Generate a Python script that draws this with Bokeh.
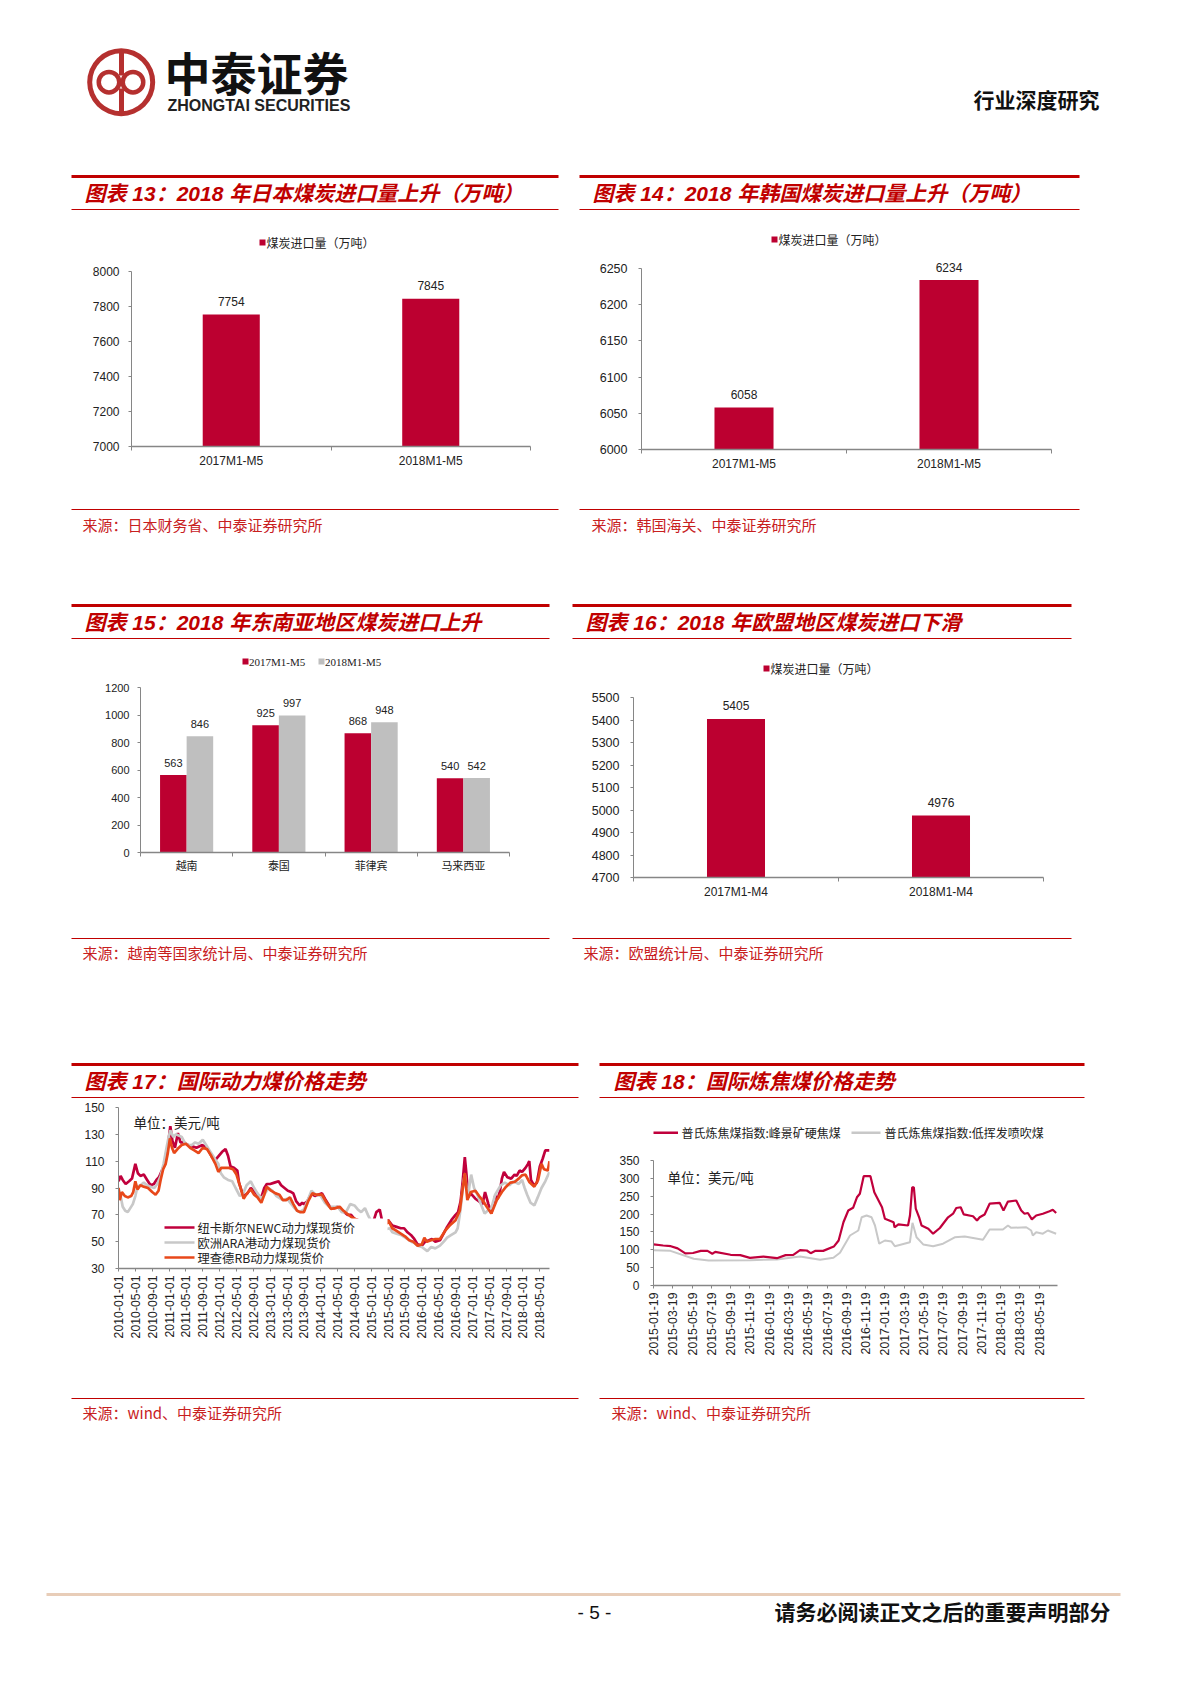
from math import pi
from bokeh.plotting import figure
from bokeh.layouts import column, row
from bokeh.models import (Range1d, LinearAxis, FixedTicker, BoxAnnotation, Label, LabelSet,
                          ColumnDataSource)
from bokeh.core.properties import value
from bokeh.embed import file_html
from bokeh.resources import INLINE

# ---------- data ----------
cats13 = ["2017M1-M5", "2018M1-M5"]
vals13 = [7754, 7845]
ticks13 = [7000, 7200, 7400, 7600, 7800, 8000]
cats14 = ["2017M1-M5", "2018M1-M5"]
vals14 = [6058, 6234]
ticks14 = [6000, 6050, 6100, 6150, 6200, 6250]
cats15 = ["越南", "泰国", "菲律宾", "马来西亚"]
vals15a = [563, 925, 868, 540]
vals15b = [846, 997, 948, 542]
ticks15 = [0, 200, 400, 600, 800, 1000, 1200]
cats16 = ["2017M1-M4", "2018M1-M4"]
vals16 = [5405, 4976]
ticks16 = [4700, 4800, 4900, 5000, 5100, 5200, 5300, 5400, 5500]

labels17 = ["2010-01-01", "2010-05-01", "2010-09-01", "2011-01-01", "2011-05-01", "2011-09-01",
            "2012-01-01", "2012-05-01", "2012-09-01", "2013-01-01", "2013-05-01", "2013-09-01",
            "2014-01-01", "2014-05-01", "2014-09-01", "2015-01-01", "2015-05-01", "2015-09-01",
            "2016-01-01", "2016-05-01", "2016-09-01", "2017-01-01", "2017-05-01", "2017-09-01",
            "2018-01-01", "2018-05-01"]
ticks17 = [30, 50, 70, 90, 110, 130, 150]
# (months since 2010-01, USD/t)
newc = [(0,95),(0.5,99),(1,96),(1.7,93),(2.5,95),(3.2,97),(4,108),(4.6,101),(5.2,99),(6,100),(6.8,96),(7.6,92),
        (8.4,93),(9,96),(9.6,98),(10.3,103),(11,108),(11.6,118),(12.3,136),(12.8,125),(13.4,120),(14.1,131),
        (14.7,124),(15.5,124),(16.5,122),(17.5,121),(18.5,120),(19.9,122),(21,120),(22.2,113),(23,111),(23.8,114),
        (24.6,117),(25.4,119),(26,114),(26.6,106),(27.4,105),(28.2,103),(28.6,94),(29.2,88),(29.8,84),(30.6,86),
        (31.4,90),(32.2,88),(33,85),(33.9,83),(34.6,90),(35.2,93),(36,93),(37,94),(38,95),(38.6,92),(39.4,90),
        (40.2,88),(41,87),(41.5,86),(42.2,80),(43,77),(43.6,79),(44,78),(44.8,80),(45.8,86),(46.6,84),(47.4,85),
        (48.3,86),(49,82),(49.8,78),(50.4,75),(51.2,75),(52,76),(52.8,74),(53.6,72),(54.4,70),(55.2,70),(56,67),
        (57,66),(58,64),(59,62),(60,63),(60.6,66),(61.2,72),(62,74),(62.4,68),(62.8,62),(64,66),(65,62),(66,61),
        (67,60),(67.8,60),(68.6,57),(69.4,55),(70.2,52),(71,48),(72,47),(72.8,50),(73.7,51),(74.4,52),(75.2,50),
        (76.3,51),(77,55),(78,61),(79,66),(80,70),(80.6,72),(81.2,80),(81.7,95),(82.2,113),(82.6,100),(83,83),
        (83.6,86),(84.7,82),(85.6,80),(86.4,78),(87,87),(87.8,78),(88.5,71),(89.4,84),(90,82),(90.5,87),(91,97),
        (91.5,102),(92.3,98),(93.2,97),(94,100),(94.5,99),(95.2,103),(95.8,102),(96.6,105),(97.2,108),(97.5,110),
        (97.9,96),(98.6,92),(99.3,94),(100,106),(100.7,112),(101.3,118),(102.3,118)]
ara = [(0,90),(0.5,84),(1,76),(1.6,73),(2.2,72),(2.8,75),(3.4,78),(4,84),(4.5,91),(5.2,92),(6,94),(6.8,92),(7.6,91),
       (8.5,90),(9.2,93),(10,99),(10.7,108),(11.4,120),(11.9,128),(12.3,133),(13,128),(13.6,130),(14.4,129),(15,128),
       (15.7,124),(16.5,122),(17.4,122),(18.2,124),(19,123),(20,126),(20.8,122),(21.6,118),(22.4,114),(23,111),
       (23.7,108),(24.3,101),(25,98),(26,96),(27,95),(27.8,90),(28.8,84),(29.6,86),(30.4,92),(31.4,95),(32.2,90),
       (33,86),(33.9,82),(34.8,86),(35.6,90),(36.5,88),(37.5,84),(39,81),(40,82),(41.5,76),(42.4,73),(43,72),(44,74),
       (44.8,80),(45.8,88),(46.8,85),(48,84),(49,79),(50,76),(50.8,76),(52,76),(53,72),(54,72),(55,78),(56,77),
       (56.8,74),(57.6,72),(58.5,75),(59.2,70),(60,65),(61,62),(62,60),(63,59),(64.4,60),(65,57),(66,56),(67,55),
       (68.6,52),(69.5,50),(70.2,49),(71,47),(72,46),(73.3,43),(74.2,46),(75.2,45),(76.3,47),(77.2,50),(78,53),
       (79,55),(80,57),(80.5,60),(81,70),(81.4,80),(81.9,95),(82.2,100),(82.6,90),(83,85),(83.7,100),(84.4,90),
       (85.2,85),(86,78),(86.9,71),(87.6,73),(88.5,75),(89.4,85),(90.7,92),(91.7,94),(92.8,92),(93.8,95),(95,93),
       (95.8,96),(96.4,90),(97,85),(97.8,79),(98.7,77),(99.5,83),(100.4,90),(101.3,95),(102.3,102)]
rb = [(0,90),(0.3,81),(0.8,87),(1.5,84),(2.2,83),(3,84),(3.5,87),(4,95),(4.5,89),(5.2,92),(6,91),(7,90),(8,87),
      (8.8,85),(9.5,88),(10,96),(10.6,104),(11.2,108),(11.7,116),(12.2,127),(12.7,120),(13.2,116),(14,119),(15,122),
      (16,123),(17,120),(18,118),(19,116),(20,120),(21,119),(22,114),(23,108),(23.7,102),(24.4,105),(25.2,105),
      (26.2,105),(27.2,104),(28,100),(28.8,92),(29.7,82),(30.5,86),(31.4,89),(32.2,85),(33,83),(33.9,79),(34.6,85),
      (35.2,91),(36.2,88),(37.3,86),(38.2,85),(39,81),(39.8,81),(40.7,83),(41.5,78),(42.4,73),(43.2,72),(44,72),
      (45,80),(46,86),(47,85),(48.3,85),(49.4,79),(50.4,74.5),(51.5,75),(52.5,76),(53.4,73),(54.2,71),(55.4,68),
      (56.8,66),(58,65),(59.3,66),(60,62),(61,60),(62,61),(63,60),(64,66),(65,60),(66,58),(67,56),(68,54),(69,51),
      (70,50),(71,47),(72,48),(72.6,53),(73.2,50),(74.2,51),(75.2,52),(76.3,52),(77.5,58),(78.6,62),(80,66),(81,73),
      (81.5,85),(82.2,101),(82.8,81),(83.6,87),(84.7,88),(85.6,84),(86.4,81),(87.4,76),(88.5,71),(89.8,81),(91,87),
      (92,91),(93,94),(94,94.5),(95,97),(95.8,99.5),(96.6,100),(97.5,94.5),(98.7,91),(99.6,96),(100.4,108),(101,104),
      (101.9,103),(102.3,110)]

labels18 = ["2015-01-19", "2015-03-19", "2015-05-19", "2015-07-19", "2015-09-19", "2015-11-19", "2016-01-19",
            "2016-03-19", "2016-05-19", "2016-07-19", "2016-09-19", "2016-11-19", "2017-01-19", "2017-03-19",
            "2017-05-19", "2017-07-19", "2017-09-19", "2017-11-19", "2018-01-19", "2018-03-19", "2018-05-19"]
ticks18 = [0, 50, 100, 150, 200, 250, 300, 350]
# (months since 2015-01-19, USD/t)
hard = [(0,115),(1,112),(1.8,110),(2.5,104),(3.3,90),(4.1,91),(4.9,97),(5.6,97),(6.1,89),(6.4,94),(8,86),(9,85),(10,77.5),
        (11.4,81),(12.8,76.5),(13.7,85),(14.5,86),(15.2,99),(15.9,98),(16.3,90.5),(16.8,97),(17.6,97),(18.7,109),
        (19.2,126),(19.7,177),(20.2,210),(20.7,217.5),(21.1,247),(21.4,257),(21.8,306),(22.5,306),(22.9,261),
        (23.7,219),(24,187),(24.9,177),(25,163),(25.4,171),(26.4,168),(26.6,196),(26.83,275),(27,275),(27.2,215),
        (27.55,191),(27.8,168),(28.5,159),(29,145),(29.7,161),(30.55,191),(31.07,201),(31.4,217),(31.86,219),
        (32.17,199),(33.14,194),(33.55,182),(33.83,191),(34.34,199),(34.86,229),(35.9,231.5),(36.3,210),(36.76,235),
        (37.62,238),(38.14,210),(38.48,201),(38.83,203),(39.24,185),(39.69,196),(40.38,201),(41.07,208),(41.41,212),
        (41.76,203)]
pci = [(0,99),(1.76,97),(4.17,75),(5.72,70),(10.03,71),(12.8,73),(15.2,81),(17.28,72),(18.66,77.5),(19.34,91.5),
       (20.38,140),(21.24,154),(21.59,191),(22.1,196),(22.62,191),(22.97,168),(23.41,117),(24,126),(24.69,123),
       (25.03,110),(26.59,121),(26.86,175.5),(27.28,135),(27.97,115),(29,110),(30.03,117),(31.24,135),(32.28,137),
       (34.17,128),(34.86,157),(36.24,157),(36.76,168),(37.1,161.5),(38.66,163),(39.17,154),(39.34,140),(39.69,149),
       (40.38,145),(40.9,154),(41.76,145)]

RED = "#C00000"
BAR = "#BC0030"
GREY = "#BFBFBF"
LINE_RED = "#C0003C"
LINE_GREY = "#C8C8C8"
LINE_ORANGE = "#E8481A"
CJK = "Noto Sans CJK SC"
LAT = "Liberation Sans"
MIX = "Liberation Sans, 'Noto Sans CJK SC'"
AXIS = "#868686"
TXT = "#222222"
PAGE_W = 1174


def band(y0, y1):
    """A full-width strip whose data coordinates are page pixels, for rules, titles and legends."""
    p = figure(width=PAGE_W, height=y1 - y0, x_range=Range1d(0, PAGE_W), y_range=Range1d(y1, y0),
               output_backend="svg", toolbar_location=None, min_border=0, x_axis_type=None, y_axis_type=None)
    p.outline_line_color = None
    p.grid.visible = False
    return p


def b_rect(p, x0, x1, y0, y1, color):
    p.quad(left=[x0], right=[x1], top=[y0], bottom=[y1], fill_color=color, line_color=None)


def b_text(p, x, y, txt, size, color=TXT, font=CJK, style="normal", align="left"):
    p.text(x=[x], y=[y], text=[txt], text_font=value(font), text_font_size=f"{size}px", text_color=color,
           text_font_style=style, text_align=align, text_baseline="middle")


def header_rules(p, x0, x1, heavy, thin, title, tx):
    b_rect(p, x0, x1, heavy - 1.5, heavy + 1.5, RED)
    b_rect(p, x0, x1, thin - 0.6, thin + 0.6, RED)
    b_text(p, tx, (heavy + thin) / 2 + 0.5, title, 21, RED, MIX, "bold italic")


def source_rule(p, x0, x1, y, src, sy, sx):
    b_rect(p, x0, x1, y - 0.6, y + 0.6, RED)
    b_text(p, sx, sy, src, 15, "#C8201E")


def bar_legend(p, x, y, color, txt, size=12, font=CJK, gap=7):
    b_rect(p, x, x + 6, y - 3, y + 3, color)
    b_text(p, x + gap, y, txt, size, TXT, font)


def panel(px, py, pw, ph, l, r, t, tick_top, b, xr, ticks):
    """Chart figure placed by page pixels; the frame has headroom above the top tick."""
    y0, y1 = ticks[0], ticks[-1]
    yend = y1 + (y1 - y0) * (tick_top - t) / (b - tick_top)
    p = figure(width=pw, height=ph, frame_width=r - l, frame_height=b - t, x_range=Range1d(*xr),
               y_range=Range1d(y0, yend), output_backend="svg", toolbar_location=None,
               min_border_left=l - px, min_border_right=px + pw - r, min_border_top=t - py,
               min_border_bottom=py + ph - b, x_axis_type=None, y_axis_type=None)
    p.outline_line_color = None
    p.grid.visible = False
    return p


def y_axis(p, ticks, size=12, standoff=9):
    a = LinearAxis(ticker=FixedTicker(ticks=ticks), bounds=(ticks[0], ticks[-1]), major_label_text_font=LAT,
                   major_label_text_font_size=f"{size}px", major_label_text_color=TXT,
                   axis_line_color=AXIS, major_tick_line_color=AXIS, major_tick_in=0, major_tick_out=3,
                   minor_tick_in=0, minor_tick_out=0, major_label_standoff=standoff)
    p.add_layout(a, "left")


def x_cat_axis(p, cats, font=LAT, size=12, standoff=3):
    centers = [i + 0.5 for i in range(len(cats))]
    a = LinearAxis(ticker=FixedTicker(ticks=centers, minor_ticks=list(range(len(cats) + 1))),
                   major_label_overrides={c: n for c, n in zip(centers, cats)},
                   major_label_text_font=font, major_label_text_font_size=f"{size}px", major_label_text_color=TXT,
                   axis_line_color=AXIS, axis_line_width=1.5, major_tick_in=0, major_tick_out=0,
                   minor_tick_line_color=AXIS, minor_tick_in=0, minor_tick_out=4, major_label_standoff=standoff)
    p.add_layout(a, "below")


def x_date_axis(p, labels, step):
    pos = [i * step for i in range(len(labels))]
    a = LinearAxis(ticker=FixedTicker(ticks=pos), major_label_overrides={c: n for c, n in zip(pos, labels)},
                   major_label_orientation=pi / 2, major_label_text_font=LAT, major_label_text_font_size="12.3px",
                   major_label_text_color=TXT, axis_line_color=AXIS, axis_line_width=1.5, major_tick_line_color=AXIS,
                   major_tick_in=0, major_tick_out=3, minor_tick_in=0, minor_tick_out=0, major_label_standoff=4)
    p.add_layout(a, "below")


def bar_labels(p, xs, vals, off, size=12):
    src = ColumnDataSource(dict(x=xs, y=vals, t=[str(v) for v in vals]))
    p.add_layout(LabelSet(x="x", y="y", text="t", source=src, y_offset=off, text_align="center",
                          text_baseline="middle", text_font=value(LAT), text_font_size=value(f"{size}px"),
                          text_color=TXT))


def simple_bar(px, py, pw, ph, l, r, t, tick_top, b, ticks, cats, vals, bw, size=12, standoff=9):
    p = panel(px, py, pw, ph, l, r, t, tick_top, b, (0, len(cats)), ticks)
    y_axis(p, ticks, size, standoff)
    x_cat_axis(p, cats)
    xs = [i + 0.5 for i in range(len(cats))]
    p.vbar(x=xs, bottom=ticks[0], top=vals, width=bw, fill_color=BAR, line_color=None)
    bar_labels(p, xs, vals, 13)
    return p


# ---------- header ----------
h = band(0, 170)
LOGO = "#B5302F"
h.annulus(x=[120.7], y=[81.7], inner_radius=29, outer_radius=34, fill_color=LOGO, line_color=None)
h.annulus(x=[108.5, 132.5], y=[81.7, 81.7], inner_radius=8, outer_radius=12.5, fill_color=LOGO, line_color=None)
h.quad(left=[118.5, 118.5], right=[123.5, 123.5], top=[50, 88], bottom=[75, 113], fill_color=LOGO, line_color=None)
b_text(h, 164, 70, "中泰证券", 46, "#111111", CJK, "bold")
b_text(h, 167, 104.5, "ZHONGTAI SECURITIES", 16, "#222222", LAT, "bold")
b_text(h, 973, 98, "行业深度研究", 21, "#111111", CJK, "bold")

# ---------- band above row 1 ----------
a1 = band(170, 256)
header_rules(a1, 71, 558, 176, 209, "图表 13：2018 年日本煤炭进口量上升（万吨）", 84)
header_rules(a1, 579, 1079, 176, 209, "图表 14：2018 年韩国煤炭进口量上升（万吨）", 592)
bar_legend(a1, 259, 242, BAR, "煤炭进口量（万吨）")
bar_legend(a1, 771, 239, BAR, "煤炭进口量（万吨）")

p13 = simple_bar(0, 256, 570, 244, 131, 530, 257, 271, 446, ticks13, cats13, vals13, 0.286, 12, 9)
p14 = simple_bar(570, 256, 530, 244, 641, 1051, 257, 268, 449, ticks14, cats14, vals14, 0.288, 12.5, 11)

# ---------- band between row 1 and row 2 ----------
a2 = band(500, 682)
source_rule(a2, 71, 558, 509, "来源：日本财务省、中泰证券研究所", 524, 82)
source_rule(a2, 579, 1079, 509, "来源：韩国海关、中泰证券研究所", 524, 591)
header_rules(a2, 71, 549, 605, 638, "图表 15：2018 年东南亚地区煤炭进口上升", 84)
header_rules(a2, 572, 1071, 605, 638, "图表 16：2018 年欧盟地区煤炭进口下滑", 585)
bar_legend(a2, 242, 661, BAR, cats13[0], 11, "Liberation Serif", 6.5)
bar_legend(a2, 318, 661, GREY, cats13[1], 11, "Liberation Serif", 6.5)
bar_legend(a2, 763, 668, BAR, "煤炭进口量（万吨）")

# ---------- row 2 ----------
p15 = panel(0, 682, 560, 238, 140, 509, 683, 687, 852, (0, 4), ticks15)
y_axis(p15, ticks15, 11, 8)
x_cat_axis(p15, cats15, CJK, 11, 0)
cx = [i + 0.5 for i in range(4)]
p15.vbar(x=[c - 0.144 for c in cx], bottom=0, top=vals15a, width=0.288, fill_color=BAR, line_color=None)
p15.vbar(x=[c + 0.144 for c in cx], bottom=0, top=vals15b, width=0.288, fill_color=GREY, line_color=None)
bar_labels(p15, [c - 0.144 for c in cx], vals15a, 12, 11)
bar_labels(p15, [c + 0.144 for c in cx], vals15b, 12, 11)
p16 = simple_bar(560, 682, 540, 238, 633, 1043, 683, 697, 877, ticks16, cats16, vals16, 0.283, 12.5, 11)

# ---------- band between row 2 and row 3 ----------
a3 = band(920, 1100)
source_rule(a3, 71, 549, 938, "来源：越南等国家统计局、中泰证券研究所", 952, 82)
source_rule(a3, 572, 1071, 938, "来源：欧盟统计局、中泰证券研究所", 952, 583)
header_rules(a3, 71, 578, 1064, 1097, "图表 17：国际动力煤价格走势", 84)
header_rules(a3, 599, 1084, 1064, 1097, "图表 18：国际炼焦煤价格走势", 613)

# ---------- row 3 ----------
p17 = panel(0, 1100, 590, 285, 118, 549, 1102, 1107, 1268, (0, 102.3), ticks17)
y_axis(p17, ticks17, 12, 11)
x_date_axis(p17, labels17, 4)
for series, col in ((newc, LINE_RED), (ara, LINE_GREY), (rb, LINE_ORANGE)):
    p17.line([a for a, _ in series], [b for _, b in series], line_color=col, line_width=2.7)
p17.add_layout(BoxAnnotation(left=160, right=387, top=1218 - 1100, bottom=1266 - 1100, left_units="canvas",
                             right_units="canvas", top_units="canvas", bottom_units="canvas",
                             fill_color="#FFFFFF", fill_alpha=1, line_color=None))
for yy, col, t in ((1227, LINE_RED, "纽卡斯尔NEWC动力煤现货价"), (1242, LINE_GREY, "欧洲ARA港动力煤现货价"),
                   (1257, LINE_ORANGE, "理查德RB动力煤现货价")):
    p17.add_layout(BoxAnnotation(left=164, right=194, top=yy - 1.2 - 1100, bottom=yy + 1.2 - 1100, left_units="canvas",
                                 right_units="canvas", top_units="canvas", bottom_units="canvas",
                                 fill_color=col, fill_alpha=1, line_color=None))
    p17.add_layout(Label(x=197, y=yy - 1100, x_units="canvas", y_units="canvas", text=t, text_font=CJK,
                         text_font_size="12.3px", text_color=TXT, text_baseline="middle"))
p17.add_layout(Label(x=133, y=1121 - 1100, x_units="canvas", y_units="canvas", text="单位：美元/吨", text_font=CJK,
                     text_font_size="13.5px", text_color=TXT, text_baseline="middle"))

p18 = panel(590, 1100, 510, 285, 653, 1057, 1102, 1160, 1285, (0, 41.9), ticks18)
y_axis(p18, ticks18, 12, 11)
x_date_axis(p18, labels18, 2)
p18.line([a for a, _ in pci], [b for _, b in pci], line_color=LINE_GREY, line_width=2)
p18.line([a for a, _ in hard], [b for _, b in hard], line_color=LINE_RED, line_width=2.2)
for x0, x1, col, tx, t in ((648, 677.5, LINE_RED, 681, "普氏炼焦煤指数:峰景矿硬焦煤"),
                           (851, 880, LINE_GREY, 884, "普氏炼焦煤指数:低挥发喷吹煤")):
    p18.add_layout(BoxAnnotation(left=x0 - 590, right=x1 - 590, top=31, bottom=33.4, left_units="canvas",
                                 right_units="canvas", top_units="canvas", bottom_units="canvas",
                                 fill_color=col, fill_alpha=1, line_color=None))
    p18.add_layout(Label(x=tx - 590, y=32, x_units="canvas", y_units="canvas", text=t, text_font=CJK,
                         text_font_size="12px", text_color=TXT, text_baseline="middle"))
p18.add_layout(Label(x=667 - 590, y=76, x_units="canvas", y_units="canvas", text="单位：美元/吨", text_font=CJK,
                     text_font_size="13.5px", text_color=TXT, text_baseline="middle"))

# ---------- band below row 3, footer ----------
a4 = band(1385, 1640)
source_rule(a4, 71, 578, 1398, "来源：wind、中泰证券研究所", 1412, 82)
source_rule(a4, 599, 1084, 1398, "来源：wind、中泰证券研究所", 1412, 611)
b_rect(a4, 46, 1120, 1592.5, 1595.5, "#E8CDB8")
b_text(a4, 594, 1612, "- 5 -", 19, "#111111", LAT, "normal", "center")
b_text(a4, 774, 1610, "请务必阅读正文之后的重要声明部分", 21, "#111111", CJK, "bold")

page = column(h, a1, row(p13, p14), a2, row(p15, p16), a3, row(p17, p18), a4, spacing=0)
open("out.html", "w").write(file_html(page, INLINE))
